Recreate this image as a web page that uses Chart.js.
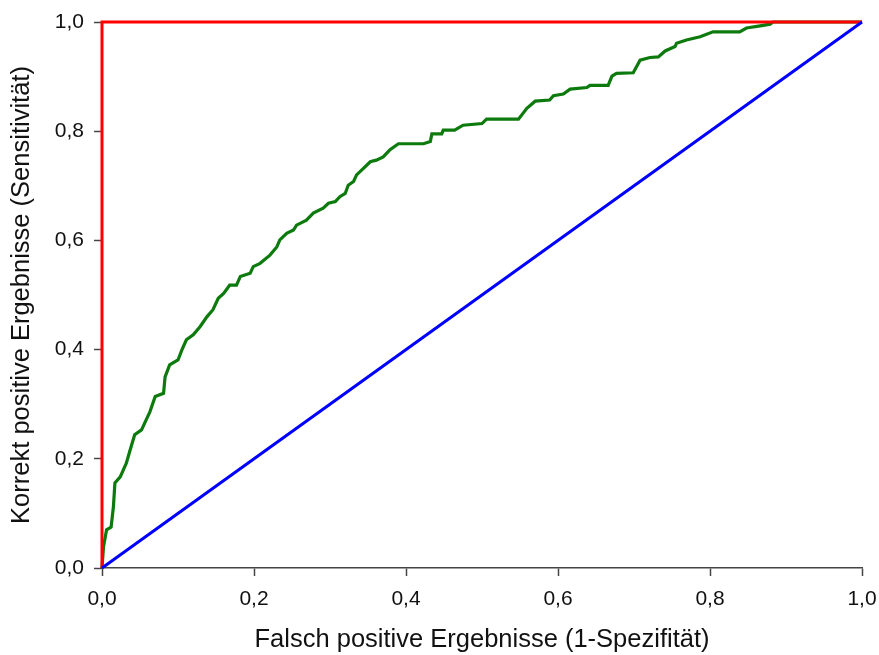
<!DOCTYPE html>
<html lang="de">
<head>
<meta charset="UTF-8">
<title>ROC-Kurve</title>
<script src="https://cdn.jsdelivr.net/npm/chart.js"></script>
<style>
    html, body { margin: 0; padding: 0; background: #fff; }
    #wrap { width: 879px; height: 655px; }
</style>
</head>
<body>
<div id="wrap"><canvas id="rocChart"></canvas></div>
<script>
    // ROC-Kurve (1-Spezifität, Sensitivität)
    const rocX = [0, 0.002, 0.006, 0.012, 0.015, 0.017, 0.024, 0.032, 0.037, 0.043, 0.052, 0.059, 0.063, 0.070, 0.081, 0.083, 0.089, 0.100,
        0.105, 0.111, 0.120, 0.129, 0.138, 0.146, 0.153, 0.160, 0.168, 0.177, 0.182, 0.195, 0.199, 0.208, 0.221, 0.230, 0.234, 0.243,
        0.252, 0.256, 0.269, 0.278, 0.291, 0.298, 0.307, 0.313, 0.320, 0.324, 0.331, 0.335, 0.344, 0.353, 0.361, 0.370, 0.379, 0.390,
        0.423, 0.432, 0.434, 0.447, 0.449, 0.464, 0.475, 0.500, 0.506, 0.548, 0.559, 0.570, 0.589, 0.594, 0.607, 0.616, 0.638, 0.642,
        0.666, 0.671, 0.677, 0.699, 0.708, 0.721, 0.732, 0.741, 0.754, 0.756, 0.769, 0.787, 0.804, 0.839, 0.848, 0.866, 0.879, 0.883, 1];
    const rocY = [0, 0.039, 0.070, 0.075, 0.112, 0.156, 0.167, 0.192, 0.216, 0.244, 0.253, 0.274, 0.286, 0.314, 0.320, 0.350, 0.372, 0.381,
        0.399, 0.418, 0.427, 0.442, 0.460, 0.473, 0.494, 0.503, 0.518, 0.518, 0.534, 0.540, 0.552, 0.558, 0.573, 0.588, 0.601, 0.613,
        0.619, 0.628, 0.637, 0.650, 0.659, 0.668, 0.671, 0.680, 0.686, 0.701, 0.708, 0.720, 0.732, 0.744, 0.747, 0.753, 0.766, 0.777,
        0.777, 0.781, 0.795, 0.795, 0.802, 0.802, 0.811, 0.814, 0.822, 0.822, 0.842, 0.855, 0.857, 0.865, 0.868, 0.877, 0.880, 0.884,
        0.884, 0.901, 0.906, 0.907, 0.930, 0.935, 0.936, 0.947, 0.955, 0.961, 0.967, 0.973, 0.982, 0.982, 0.989, 0.993, 0.996, 1.0, 1];

    // perfekter Test und Zufallslinie
    const perfectX = [0, 0, 1];
    const perfectY = [0, 1, 1];
    const chanceX = [0, 1];
    const chanceY = [0, 1];

    const ticks = [0, 0.2, 0.4, 0.6, 0.8, 1.0];

    function toPoints(xs, ys) {
        return xs.map((x, i) => ({ x: x, y: ys[i] }));
    }

    function fmt(v) {
        return v.toFixed(1).replace('.', ',');
    }

    const axisColor = '#444';
    const textColor = '#111';
    const fontFamily = '"Liberation Sans", Arial, sans-serif';

    new Chart(document.getElementById('rocChart'), {
        type: 'scatter',
        data: {
            datasets: [
                {
                    label: 'Zufall',
                    data: toPoints(chanceX, chanceY),
                    showLine: true,
                    borderColor: '#0000ff',
                    borderWidth: 3,
                    pointRadius: 0,
                    clip: 6,
                    order: 1
                },
                {
                    label: 'Perfekt',
                    data: toPoints(perfectX, perfectY),
                    showLine: true,
                    borderColor: '#ff0000',
                    borderWidth: 3,
                    pointRadius: 0,
                    clip: 6,
                    order: 2
                },
                {
                    label: 'ROC',
                    data: toPoints(rocX, rocY),
                    showLine: true,
                    borderColor: '#0c7a0c',
                    borderWidth: 3.2,
                    pointRadius: 0,
                    clip: 6,
                    order: 3
                }
            ]
        },
        options: {
            responsive: true,
            maintainAspectRatio: false,
            animation: false,
            layout: { padding: { left: 0, right: 17, top: 22, bottom: 0 } },
            plugins: {
                legend: { display: false },
                tooltip: { enabled: false }
            },
            scales: {
                x: {
                    type: 'linear',
                    min: 0,
                    max: 1,
                    afterBuildTicks: s => { s.ticks = ticks.map(v => ({ value: v })); },
                    afterFit: s => {
                        s.height = 87;
                        s.paddingLeft = 0;
                        s.paddingRight = 0;
                    },
                    grid: { drawOnChartArea: false, drawTicks: true, tickLength: 8, tickColor: axisColor, tickWidth: 1.5 },
                    border: { display: true, color: axisColor, width: 1.5 },
                    ticks: {
                        color: textColor,
                        padding: 11,
                        font: { family: fontFamily, size: 21 },
                        callback: v => fmt(v)
                    },
                    title: {
                        display: true,
                        text: 'Falsch positive Ergebnisse (1-Spezifität)',
                        color: textColor,
                        font: { family: fontFamily, size: 25.5 },
                        padding: { top: 0, bottom: 0 }
                    }
                },
                y: {
                    type: 'linear',
                    min: 0,
                    max: 1,
                    afterBuildTicks: s => { s.ticks = ticks.map(v => ({ value: v })); },
                    afterFit: s => {
                        s.width = 102;
                        s.paddingTop = 0;
                        s.paddingBottom = 0;
                    },
                    grid: { drawOnChartArea: false, drawTicks: true, tickLength: 8, tickColor: axisColor, tickWidth: 1.5 },
                    border: { display: true, color: axisColor, width: 1.5 },
                    ticks: {
                        color: textColor,
                        padding: 10,
                        font: { family: fontFamily, size: 21 },
                        callback: v => fmt(v)
                    },
                    title: {
                        display: true,
                        text: 'Korrekt positive Ergebnisse (Sensitivität)',
                        color: textColor,
                        font: { family: fontFamily, size: 25.5 },
                        padding: { top: 7, bottom: 0 }
                    }
                }
            }
        }
    });
</script>
</body>
</html>
